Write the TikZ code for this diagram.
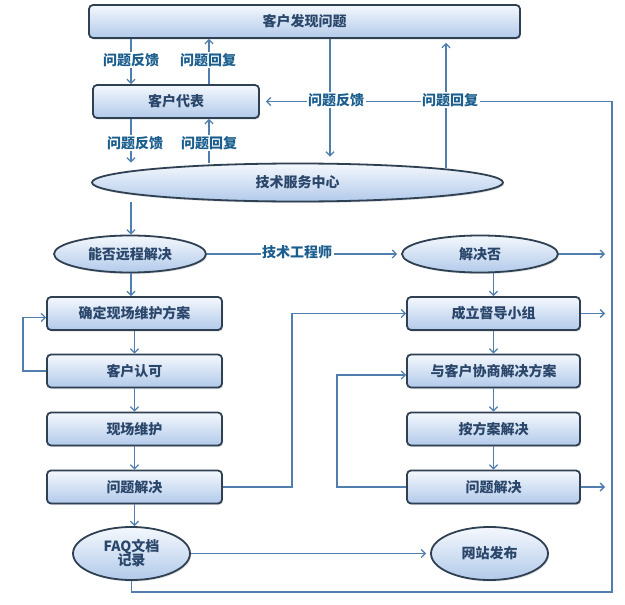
\documentclass[tikz,border=0pt]{standalone}
\usepackage{fontspec}
\setmainfont{Noto Sans CJK SC}
\usetikzlibrary{shapes.geometric,arrows.meta,shadows}
\definecolor{edgec}{HTML}{2F4052}
\definecolor{txtc}{HTML}{2A466A}
\definecolor{lblc}{HTML}{1B5E8E}
\definecolor{lnc}{HTML}{4F7EAF}
\definecolor{topc}{HTML}{F4F8FD}
\definecolor{botc}{HTML}{B2CAEA}
\tikzset{
  shapebase/.style={draw=edgec, line width=1.8pt, top color=topc, bottom color=botc,
    drop shadow={opacity=0.25, shadow xshift=1.2pt, shadow yshift=-1.5pt},
    text=txtc, font=\bfseries\fontsize{14}{15}\selectfont, inner sep=0pt, align=center},
  box/.style={shapebase, rectangle, rounded corners=4pt},
  oval/.style={shapebase, ellipse},
  conn/.style={draw=lnc, line width=1.3pt},
  arr/.style={conn, -{Straight Barb[length=4pt,width=8pt,line width=1.3pt]}},
  lab/.style={fill=white, text=lblc, inner sep=1.5pt, font=\bfseries\fontsize{14}{15}\selectfont}
}
\begin{document}
\begin{tikzpicture}[x=1pt,y=-1pt]
\useasboundingbox[fill=white] (0,0) rectangle (625,605);
% column coordinates
\coordinate (xA) at (131,0);
\coordinate (xB) at (209,0);
\coordinate (xC) at (330,0);
\coordinate (xD) at (446,0);
\coordinate (xH) at (292,0);
\coordinate (xI) at (337,0);
\coordinate (xJ) at (23,0);
\coordinate (oR) at (605,0);
\coordinate (cB) at (612,592);
\coordinate (dStart) at (446,168);
% nodes
\node[box, minimum width=431, minimum height=33] (b1) at (304.5,21.5) {客户发现问题};
\node[box, minimum width=166, minimum height=33] (rep) at (176,101.5) {客户代表};
\node[oval, minimum width=411, minimum height=38] (tsc) at (297.5,182.5) {技术服务中心};
\node[oval, minimum width=152, minimum height=37] (remote) at (130,254) {能否远程解决};
\node[oval, minimum width=156, minimum height=37] (solved) at (480,254) {解决否};
\node[box, minimum width=175, minimum height=33] (l1) at (134.5,313.5) {确定现场维护方案};
\node[box, minimum width=175, minimum height=33] (l2) at (134.5,371) {客户认可};
\node[box, minimum width=175, minimum height=33] (l3) at (134.5,429) {现场维护};
\node[box, minimum width=175, minimum height=33] (l4) at (134.5,487) {问题解决};
\node[box, minimum width=173, minimum height=33] (sup) at (493.5,313.5) {成立督导小组};
\node[box, minimum width=173, minimum height=33] (r2) at (493.5,371) {与客户协商解决方案};
\node[box, minimum width=173, minimum height=33] (r3) at (493.5,429) {按方案解决};
\node[box, minimum width=173, minimum height=33] (r4) at (493.5,487) {问题解决};
\node[oval, minimum width=117, minimum height=53] (faq) at (131.5,553.5) {FAQ文档\\[-1pt]记录};
\node[oval, minimum width=117, minimum height=53] (web) at (489.5,553.5) {网站发布};
% connectors top
\draw[arr] (b1.south -| xA) -- (rep.north -| xA);
\draw[arr] (rep.north -| xB) -- (b1.south -| xB);
\draw[arr] (rep.south -| xA) -- (tsc.north -| xA);
\draw[arr] (tsc.north -| xB) -- (rep.south -| xB);
\draw[arr, shorten >=6pt] (b1.south -| xC) -- (tsc.north -| xC);
\draw[arr, shorten >=4pt] (dStart) -- (b1.south -| xD);
\draw[arr, shorten >=6pt] (faq.south) |- (cB) |- (rep.east);
% middle
\draw[arr] (tsc.south -| xA) -- (remote.north -| xA);
\draw[arr, shorten >=4pt] (remote.east) -- (solved.west);
\draw[arr] (solved.east) -- (solved.east -| oR);
\draw[arr] (sup.north |- solved.south) -- (sup.north);
% left column
\draw[arr] (remote.south -| xA) -- (l1.north -| xA);
\draw[arr] (l1.south) -- (l2.north);
\draw[arr] (l2.south) -- (l3.north);
\draw[arr] (l3.south) -- (l4.north);
\draw[arr] (l4.south) -- (l4.south |- faq.north);
\draw[arr] (l2.west) -- (l2.west -| xJ) |- ([yshift=-4pt]l1.west);
\draw[arr] (l4.east) -- (l4.east -| xH) |- (sup.west);
% right column
\draw[arr] (sup.south) -- (r2.north);
\draw[arr] (r2.south) -- (r3.north);
\draw[arr] (r3.south) -- (r4.north);
\draw[arr] (r4.west) -- (r4.west -| xI) |- ([yshift=-4pt]r2.west);
\draw[arr] (sup.east) -- (sup.east -| oR);
\draw[arr] (r4.east) -- (r4.east -| oR);
\draw[arr, shorten >=4pt] (faq.east) -- (web.west);
% labels
\node[lab] (t1) at (131,60) {问题反馈};
\node[lab] (t2) at (208,60) {问题回复};
\node[lab] (t3) at (135,143) {问题反馈};
\node[lab] (t4) at (209,143) {问题回复};
\node[lab] (t5) at (336,100) {问题反馈};
\node[lab] (t6) at (450,100) {问题回复};
\node[lab] (t7) at (297,252) {技术工程师};
\end{tikzpicture}
\end{document}
